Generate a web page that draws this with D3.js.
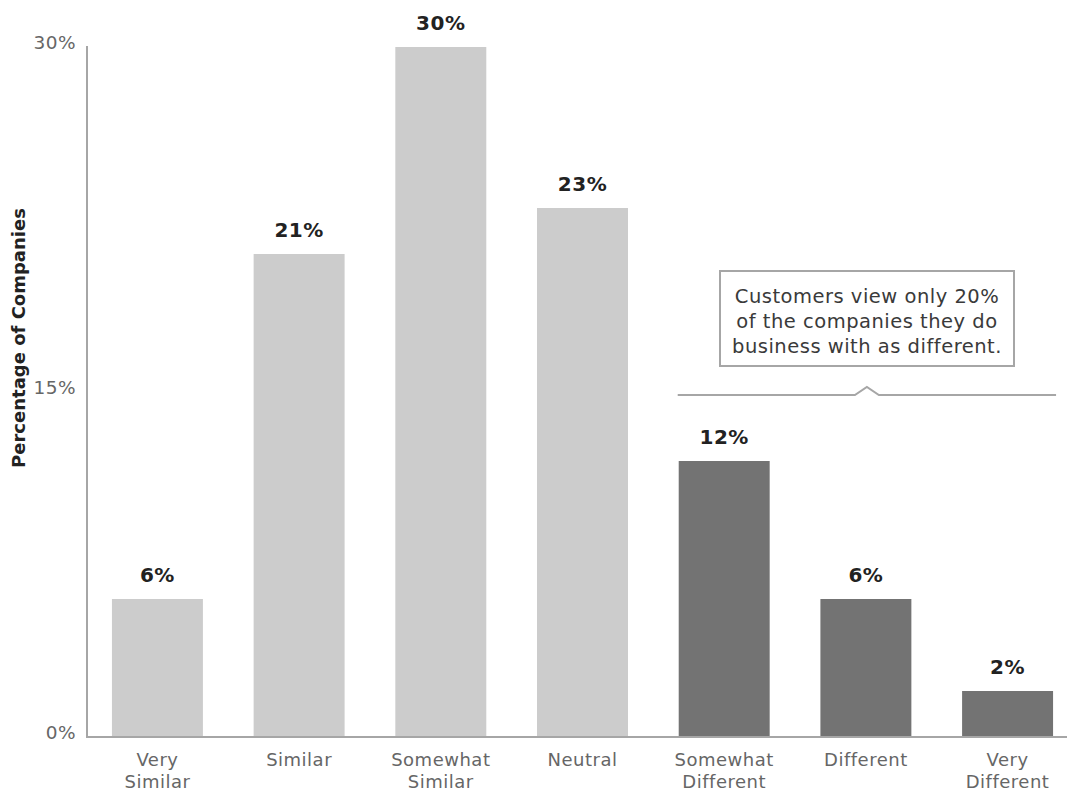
<!DOCTYPE html>
<html>
<head>
<meta charset="utf-8">
<script src="https://cdn.jsdelivr.net/npm/d3@7"></script>
<style>
  body { margin: 0; background: #fff; }
  svg text { font-family: "DejaVu Sans", "Open Sans", sans-serif; }
</style>
</head>
<body>
<div id="chart"></div>
<script>
// data
const categories = [
  ["Very", "Similar"], ["Similar"], ["Somewhat", "Similar"], ["Neutral"],
  ["Somewhat", "Different"], ["Different"], ["Very", "Different"]
];
const values = [6, 21, 30, 23, 12, 6, 2];
const groups = ["similar", "similar", "similar", "similar", "different", "different", "different"];
const yTicks = [0, 15, 30];
const noteLines = ["Customers view only 20%", "of the companies they do", "business with as different."];
const bracketRange = [4, 6]; // first / last category covered by the note

let width = 1067, height = 792;
let lightBar = '#cccccc',
    darkBar = '#737373',
    axisColor = '#a6a6a6';

const svg = d3.select('#chart').append('svg')
    .attr('width', width)
    .attr('height', height);

const x = d3.scaleBand()
    .domain(d3.range(values.length))
    .range([87, 1078])
    .paddingInner(0.358)
    .paddingOuter(0.176);

const y = d3.scaleLinear()
    .domain([0, 30])
    .range([737, 47]);

// y axis ticks
svg.append('g').selectAll('text')
    .data(yTicks)
    .enter().append('text')
    .attr('x', 76)
    .attr('y', d => y(d) + 2)
    .attr('text-anchor', 'end')
    .attr('font-size', 18.5)
    .attr('letter-spacing', 0.5)
    .attr('fill', '#666')
    .text(d => d + '%');

svg.append('text')
    .attr('transform', 'translate(25,' + 338 + ') rotate(-90)')
    .attr('text-anchor', 'middle')
    .attr('font-size', 18)
    .attr('font-weight', 'bold')
    .attr('fill', '#222')
    .text('Percentage of Companies');

// bars
svg.append('g').selectAll('rect')
    .data(values)
    .enter().append('rect')
    .attr('x', (d, i) => x(i))
    .attr('y', d => y(d))
    .attr('width', x.bandwidth())
    .attr('height', d => y(0) - y(d))
    .attr('fill', (d, i) => groups[i] == 'similar' ? lightBar : darkBar);

// value labels
svg.append('g').selectAll('text')
    .data(values)
    .enter().append('text')
    .attr('x', (d, i) => x(i) + x.bandwidth() / 2)
    .attr('y', d => y(d) - 17)
    .attr('text-anchor', 'middle')
    .attr('font-size', 20)
    .attr('letter-spacing', 0.5)
    .attr('font-weight', 'bold')
    .attr('fill', '#222')
    .text(d => d + '%');

// axes lines
svg.append('line')
    .attr('x1', 87).attr('x2', 87)
    .attr('y1', y(30) - 1).attr('y2', y(0))
    .attr('stroke', axisColor).attr('stroke-width', 2);
svg.append('line')
    .attr('x1', 86).attr('x2', width)
    .attr('y1', y(0)).attr('y2', y(0))
    .attr('stroke', axisColor).attr('stroke-width', 2);

// category labels
const cat = svg.append('g').selectAll('text')
    .data(categories)
    .enter().append('text')
    .attr('x', (d, i) => x(i) + x.bandwidth() / 2)
    .attr('y', 766)
    .attr('text-anchor', 'middle')
    .attr('font-size', 18)
    .attr('letter-spacing', 0.5)
    .attr('fill', '#666');
cat.selectAll('tspan')
    .data(d => d)
    .enter().append('tspan')
    .attr('x', function() { return d3.select(this.parentNode).attr('x'); })
    .attr('dy', (d, i) => i == 0 ? 0 : 22)
    .text(d => d);

// bracket over the "different" bars
const bx0 = x(bracketRange[0]) - 1,
    bx1 = x(bracketRange[1]) + x.bandwidth() + 3,
    by = 395,
    bmid = (bx0 + bx1) / 2;
svg.append('path')
    .attr('d', 'M' + bx0 + ',' + by + 'H' + (bmid - 12) + 'L' + bmid + ',' + (by - 8) +
        'L' + (bmid + 12) + ',' + by + 'H' + bx1)
    .attr('fill', 'none')
    .attr('stroke', axisColor)
    .attr('stroke-width', 2);

// note box
svg.append('rect')
    .attr('x', 720).attr('y', 271)
    .attr('width', 294).attr('height', 95)
    .attr('fill', '#fff')
    .attr('stroke', axisColor)
    .attr('stroke-width', 2);

svg.append('g').selectAll('text')
    .data(noteLines)
    .enter().append('text')
    .attr('x', 867)
    .attr('y', (d, i) => 303 + i * 25)
    .attr('text-anchor', 'middle')
    .attr('font-size', 19.5)
    .attr('letter-spacing', 0.5)
    .attr('fill', '#3a3a3a')
    .text(d => d);
</script>
</body>
</html>
